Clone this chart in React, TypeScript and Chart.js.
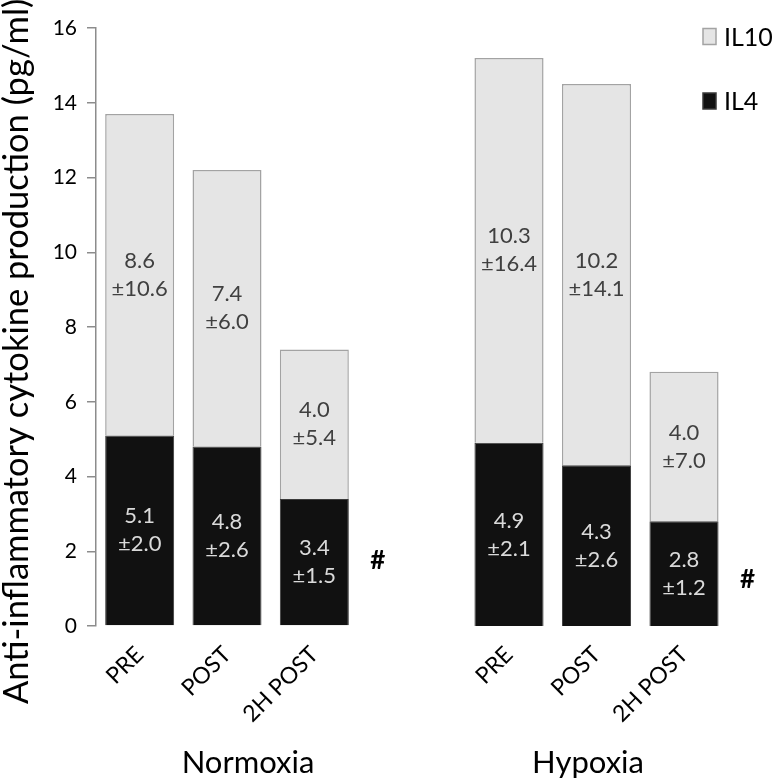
import React, { useEffect, useRef } from "react";
import { Chart, registerables } from "chart.js";
Chart.register(...registerables);

const FONT = "Lato, 'Liberation Sans', sans-serif";

// ---- data ----
const categories = ["PRE", "POST", "2H POST"];
const groupTitles = ["Normoxia", "Hypoxia"];
const il4Normoxia = [5.1, 4.8, 3.4];
const il4NormoxiaSD = [2.0, 2.6, 1.5];
const il10Normoxia = [8.6, 7.4, 4.0];
const il10NormoxiaSD = [10.6, 6.0, 5.4];
const il4Hypoxia = [4.9, 4.3, 2.8];
const il4HypoxiaSD = [2.1, 2.6, 1.2];
const il10Hypoxia = [10.3, 10.2, 4.0];
const il10HypoxiaSD = [16.4, 14.1, 7.0];
const sigNormoxia: (number | null)[] = [null, null, 1.75];
const sigHypoxia: (number | null)[] = [null, null, 1.25];
const yMin = 0;
const yMax = 16;
const yStep = 2;
const yTitle = "Anti-inflammatory cytokine production (pg/ml)";

const IL4_FILL = "#111111";
const IL4_BORDER = "#3a3a3a";
const IL10_FILL = "#e5e5e5";
const IL10_BORDER = "#a3a3a3";
const AXIS = "#8c8c8c";

const segmentLabels = {
  id: "segmentLabels",
  afterDatasetsDraw(chart: any) {
    const { ctx } = chart;
    chart.data.datasets.forEach((ds: any, i: number) => {
      const meta = chart.getDatasetMeta(i);
      meta.data.forEach((el: any, j: number) => {
        const p = el.getProps(["x", "y", "base"], true);
        const cy = (p.y + p.base) / 2;
        ctx.save();
        ctx.font = `22px ${FONT}`;
        ctx.fillStyle = ds.textColor;
        ctx.textAlign = "center";
        ctx.textBaseline = "middle";
        ctx.fillText(ds.data[j].toFixed(1), p.x, cy - 14);
        ctx.fillText("\u00b1" + ds.sd[j].toFixed(1), p.x, cy + 14);
        ctx.restore();
      });
    });
  },
};

const sigMarks = {
  id: "sigMarks",
  afterDatasetsDraw(chart: any, _a: any, opts: any) {
    const { ctx } = chart;
    const meta = chart.getDatasetMeta(0);
    const ys = chart.scales.y;
    (opts.values || []).forEach((v: number | null, j: number) => {
      if (v == null) return;
      const p = meta.data[j].getProps(["x", "width"], true);
      ctx.save();
      ctx.font = `bold 26px ${FONT}`;
      ctx.fillStyle = "#000";
      ctx.textAlign = "center";
      ctx.textBaseline = "middle";
      ctx.fillText("#", p.x + p.width / 2 + 29, ys.getPixelForValue(v));
      ctx.restore();
    });
  },
};

const groupTitle = {
  id: "groupTitle",
  afterDraw(chart: any, _a: any, opts: any) {
    if (!opts.text) return;
    const { ctx, chartArea } = chart;
    ctx.save();
    ctx.font = `31px ${FONT}`;
    ctx.fillStyle = "#000";
    ctx.textAlign = "center";
    ctx.textBaseline = "alphabetic";
    ctx.fillText(opts.text, (chartArea.left + chartArea.right) / 2 + opts.dx, opts.baseline);
    ctx.restore();
  },
};

const yTitlePlugin = {
  id: "yTitlePlugin",
  afterDraw(chart: any, _a: any, opts: any) {
    if (!opts.text) return;
    const { ctx } = chart;
    ctx.save();
    ctx.translate(opts.x, opts.y);
    ctx.rotate(-Math.PI / 2);
    ctx.font = `34.5px ${FONT}`;
    ctx.fillStyle = "#000";
    ctx.textAlign = "left";
    ctx.textBaseline = "alphabetic";
    ctx.fillText(opts.text, 0, 0);
    ctx.restore();
  },
};

const boxLegend = {
  id: "boxLegend",
  afterDraw(chart: any, _a: any, opts: any) {
    if (!opts.show) return;
    const { ctx } = chart;
    const items = [...chart.data.datasets].reverse();
    items.forEach((ds: any, k: number) => {
      const cy = opts.y0 + k * opts.dy;
      ctx.save();
      ctx.fillStyle = ds.backgroundColor;
      ctx.strokeStyle = ds.borderColor;
      ctx.lineWidth = 1.5;
      ctx.fillRect(opts.x, cy - 8, 13, 16);
      ctx.strokeRect(opts.x, cy - 8, 13, 16);
      ctx.font = `25px ${FONT}`;
      ctx.fillStyle = "#000";
      ctx.textAlign = "left";
      ctx.textBaseline = "middle";
      ctx.fillText(ds.label, opts.x + 21, cy + 1);
      ctx.restore();
    });
  },
};

function buildConfig(
  isLeft: boolean,
  il4: number[],
  il4sd: number[],
  il10: number[],
  il10sd: number[],
  sig: (number | null)[],
  title: string
): any {
  const yScale: any = {
    stacked: true,
    display: isLeft,
    min: yMin,
    max: yMax,
    ticks: {
      stepSize: yStep,
      color: "#000",
      font: { family: FONT, size: 21 },
      padding: 10,
    },
    grid: {
      display: true,
      drawOnChartArea: false,
      drawTicks: true,
      tickLength: 9,
      color: AXIS,
      lineWidth: 1.5,
    },
    border: { display: true, color: AXIS, width: 1.5 },
  };
  if (isLeft) {
    yScale.afterFit = (s: any) => {
      s.width = 96;
    };
  }
  return {
    type: "bar",
    data: {
      labels: categories,
      datasets: [
        {
          label: "IL4",
          data: il4,
          sd: il4sd,
          textColor: "#dadada",
          backgroundColor: IL4_FILL,
          borderColor: IL4_BORDER,
          borderWidth: 1,
          barPercentage: 0.79,
          categoryPercentage: 1,
        },
        {
          label: "IL10",
          data: il10,
          sd: il10sd,
          textColor: "#404040",
          backgroundColor: IL10_FILL,
          borderColor: IL10_BORDER,
          borderWidth: 1.5,
          barPercentage: 0.79,
          categoryPercentage: 1,
        },
      ],
    },
    options: {
      responsive: false,
      animation: false,
      layout: {
        padding: isLeft
          ? { top: 28, right: 62, left: 0, bottom: 0 }
          : { top: 28, right: 46.25, left: 85.25, bottom: 0 },
      },
      scales: {
        x: {
          stacked: true,
          grid: { display: false, drawTicks: false },
          border: { display: false },
          ticks: {
            color: "#000",
            font: { family: FONT, size: 23 },
            minRotation: 45,
            maxRotation: 45,
            padding: 15,
          },
          afterFit: (s: any) => {
            s.height = 153;
          },
        },
        y: yScale,
      },
      plugins: {
        legend: { display: false },
        tooltip: { enabled: false },
        sigMarks: { values: sig },
        groupTitle: { text: title, dx: isLeft ? 21 : -8.5, baseline: 773 },
        yTitlePlugin: isLeft ? { text: yTitle, x: 28, y: 704 } : { text: "" },
        boxLegend: isLeft ? { show: false } : { show: true, x: 323, y0: 36.5, dy: 64.5 },
      },
    },
    plugins: [segmentLabels, sigMarks, groupTitle, yTitlePlugin, boxLegend],
  };
}

export default function App() {
  const leftRef = useRef<HTMLCanvasElement>(null);
  const rightRef = useRef<HTMLCanvasElement>(null);

  useEffect(() => {
    const left = new Chart(
      leftRef.current as HTMLCanvasElement,
      buildConfig(true, il4Normoxia, il4NormoxiaSD, il10Normoxia, il10NormoxiaSD, sigNormoxia, groupTitles[0])
    );
    const right = new Chart(
      rightRef.current as HTMLCanvasElement,
      buildConfig(false, il4Hypoxia, il4HypoxiaSD, il10Hypoxia, il10HypoxiaSD, sigHypoxia, groupTitles[1])
    );
    return () => {
      left.destroy();
      right.destroy();
    };
  }, []);

  return (
    <div style={{ position: "fixed", left: 0, top: 0, width: 774, height: 779, background: "#fff" }}>
      <canvas
        ref={leftRef}
        width={420}
        height={779}
        style={{ position: "absolute", left: 0, top: 0, width: 420, height: 779 }}
      />
      <canvas
        ref={rightRef}
        width={394}
        height={779}
        style={{ position: "absolute", left: 380, top: 0, width: 394, height: 779 }}
      />
    </div>
  );
}
